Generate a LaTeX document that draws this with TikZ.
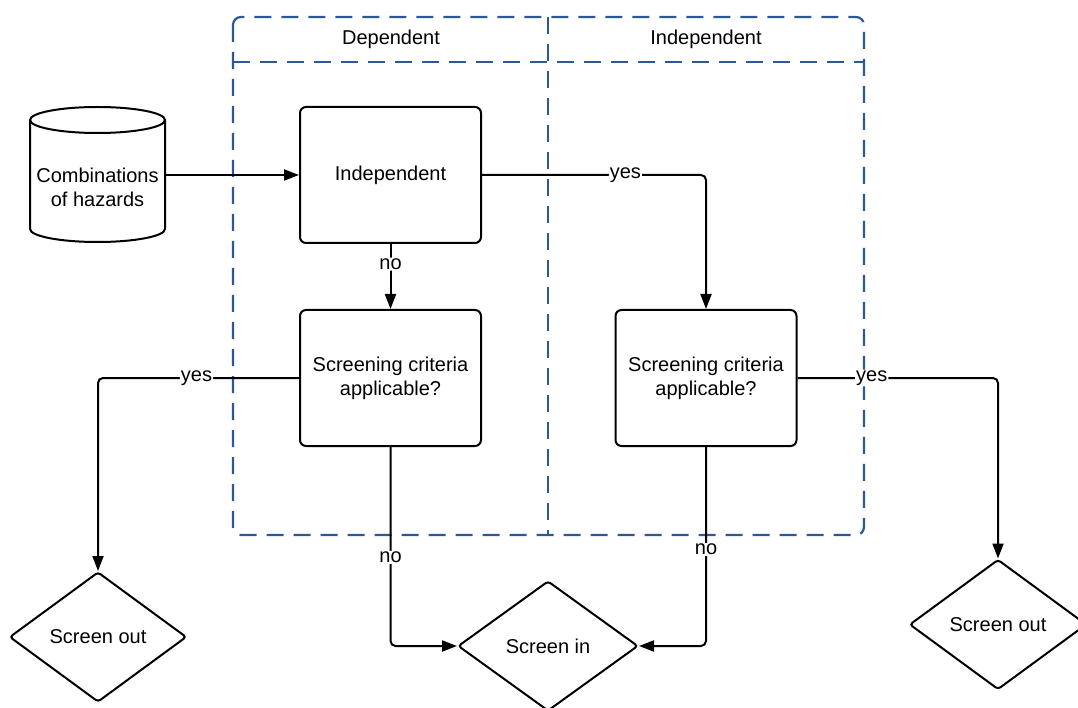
\documentclass[tikz,border=0pt]{standalone}
\usepackage{fontspec}
\setmainfont{Liberation Sans}
\usetikzlibrary{arrows.meta,shapes.geometric}
\definecolor{lane}{RGB}{44,88,150}
\begin{document}
\begin{tikzpicture}[x=1pt,y=-1pt,
 every node/.style={font=\fontsize{20}{24}\selectfont},
 proc/.style={draw, line width=2pt, rounded corners=6pt, minimum width=181pt, minimum height=136pt, align=center, inner sep=0},
 decis/.style={draw, diamond, line width=2pt, rounded corners=3pt, minimum width=177pt, minimum height=130pt, inner sep=0},
 flow/.style={line width=2pt, -{Triangle[length=15pt,width=11pt]}, rounded corners=5pt},
 lbl/.style={fill=white, inner sep=1pt},
 lanel/.style={draw=lane, line width=2.2pt, dash pattern=on 17pt off 10pt}
]
\useasboundingbox (0,0) rectangle (1078,708);
% swimlanes
\draw[lanel, rounded corners=8pt] (233,17) rectangle (864,535);
\draw[lanel] (233,62) -- (864,62);
\draw[lanel] (548,17) -- (548,535);
\node (hdep) at (391,39) {Dependent};
\node (hind) at (706,39) {Independent};
% cylinder
\node[minimum width=135pt, minimum height=135pt, inner sep=0] (cyl) at (97.5,175) {};
\draw[line width=2pt] (30,120) -- (30,229) arc[start angle=180, end angle=0, x radius=67.5, y radius=13] -- (165,120);
\draw[line width=2pt] (97.5,120) ellipse[x radius=67.5, y radius=13];
\node[align=center] (cyltxt) at (97.5,187) {Combinations\\of hazards};
% process boxes
\node[proc] (b1) at (390.5,175) {\raisebox{3pt}{Independent}};
\node[proc] (b2) at (390.5,378) {Screening criteria\\applicable?};
\node[proc] (b3) at (706,378) {Screening criteria\\applicable?};
% decisions
\node[decis] (so1) at (98,637) {Screen out};
\node[decis, minimum width=180pt] (si) at (548,646) {Screen in};
\node[decis] (so2) at (998,624.5) {Screen out};
% connectors
\draw[flow] (cyl.east) -- (b1.west);
\draw[flow] (b1.east) -- node[lbl,pos=0.64]{yes} (b3.north |- b1.east) -- (b3.north);
\draw[flow] (b1.south) -- node[lbl,pos=0.31]{no} (b2.north);
\draw[flow] (b2.west) -- node[lbl,pos=0.51]{yes} (so1.north |- b2.west) -- (so1.north);
\draw[flow] (b3.east) -- node[lbl,pos=0.37]{yes} (so2.north |- b3.east) -- (so2.north);
\draw[flow] (b2.south) -- node[lbl,pos=0.555]{no} (b2.south |- si.west) -- (si.west);
\draw[flow] (b3.south) -- node[lbl,pos=0.515]{no} (b3.south |- si.east) -- (si.east);
\end{tikzpicture}
\end{document}
